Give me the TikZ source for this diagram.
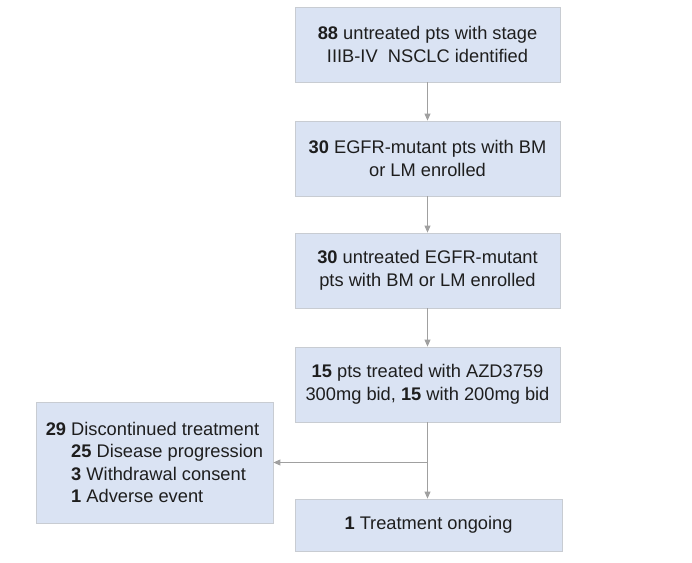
\documentclass[tikz,border=0pt]{standalone}
\usepackage{fontspec}
\setmainfont{Liberation Sans}
\usepackage{xcolor}
\usepackage{tikz}
\usetikzlibrary{arrows.meta}
\definecolor{boxfill}{HTML}{DAE3F3}
\definecolor{boxline}{HTML}{C8CCD2}
\definecolor{arrowgrey}{HTML}{A0A0A0}
\definecolor{txt}{HTML}{1E1E1E}

\begin{document}
\begin{tikzpicture}[x=0.03cm,y=-0.03cm,
  box/.style={draw=boxline,fill=boxfill,line width=0.6pt,text=txt,align=center,
    minimum width=265*0.03cm,minimum height=75*0.03cm,inner sep=0pt,
    font=\fontsize{15.6}{19.2}\selectfont},
  flow/.style={draw=arrowgrey,line width=1pt,-{Triangle[length=6pt,width=5pt]}}]
\useasboundingbox(0,0)rectangle(692,563);
\node[box](ident)at(427.5,44.5){\textbf{88} untreated pts with stage\\IIIB-IV\ \ NSCLC identified};
\node[box](egfr)at(427.5,158.5){\textbf{30} EGFR-mutant pts with BM\\or LM enrolled};
\node[box](enrol)at(427.5,270.5){\textbf{30} untreated EGFR-mutant\\pts with BM or LM enrolled};
\node[box](treat)at(427.5,384.5){\textbf{15} pts treated with AZD3759\\300mg bid, \textbf{15} with 200mg bid};
\node[box,minimum width=267*0.03cm,minimum height=52*0.03cm](ongo)at(428.5,525){\textbf{1} Treatment ongoing};
\node[box,align=left,minimum width=237*0.03cm,minimum height=121*0.03cm](disc)at(154.5,462.5)
  {\textbf{29} Discontinued treatment\\
   \hphantom{\textbf{29}\ }\textbf{25} Disease progression\\
   \hphantom{\textbf{29}\ }\textbf{3} Withdrawal consent\\
   \hphantom{\textbf{29}\ }\textbf{1} Adverse event};
\coordinate(split)at(treat.south|-disc.east);
\draw[flow](ident)--(egfr);
\draw[flow](egfr)--(enrol);
\draw[flow](enrol)--(treat);
\draw[flow](treat)--(ongo.north-|treat.south);
\draw[flow](split)--(disc.east);
\end{tikzpicture}
\end{document}
